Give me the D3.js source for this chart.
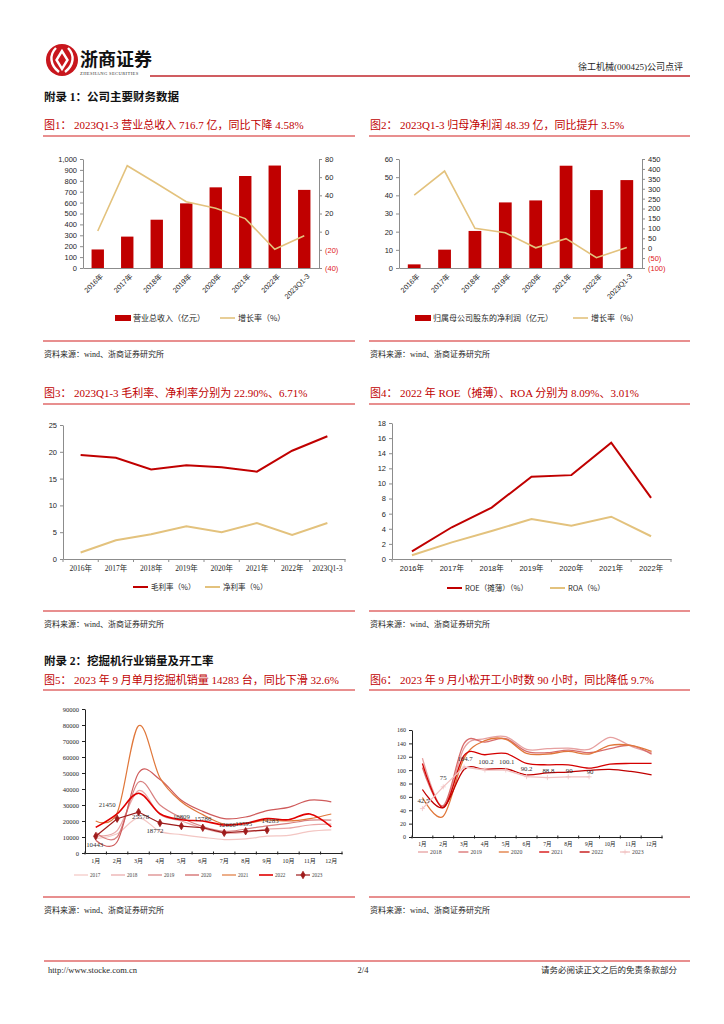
<!DOCTYPE html>
<html>
<head>
<meta charset="utf-8">
<script src="https://d3js.org/d3.v7.min.js"></script>
<style>
  body { margin: 0; background: #fff; }
  svg { display: block; }
</style>
</head>
<body>
<script>
// ---------- data ----------
var years = ["2016年", "2017年", "2018年", "2019年", "2020年", "2021年", "2022年", "2023Q1-3"];
var revenue = [170, 288, 443, 593, 740, 844, 940, 716.7];          // 营业总收入（亿元）
var revenueGrowth = [0.7, 72.6, 53, 33, 25.7, 14.4, -19.4, -4.58];  // 增长率（%）
var netProfit = [2.0, 10.1, 20.4, 36.1, 37.2, 56.3, 42.9, 48.39];   // 归母净利润（亿元）
var profitGrowth = [268, 389, 100, 78, 2, 48, -48, 3.5];            // 增长率（%）

var grossMargin = [19.4, 18.9, 16.7, 17.5, 17.1, 16.3, 20.2, 22.90];
var netMargin = [1.2, 3.5, 4.6, 6.1, 5.0, 6.7, 4.5, 6.71];

var roeYears = ["2016年", "2017年", "2018年", "2019年", "2020年", "2021年", "2022年"];
var roe = [1.0, 4.2, 6.8, 10.9, 11.1, 15.4, 8.09];
var roa = [0.5, 2.2, 3.7, 5.3, 4.4, 5.6, 3.01];

var months = ["1月", "2月", "3月", "4月", "5月", "6月", "7月", "8月", "9月", "10月", "11月", "12月"];
var salesYears = ["2017", "2018", "2019", "2020", "2021", "2022", "2023"];
var sales2017 = [9000, 12000, 22000, 13500, 11500, 9800, 8400, 8800, 10500, 11000, 13500, 14400];
var sales2018 = [11000, 14000, 39000, 24000, 20000, 15500, 12500, 13000, 15000, 15500, 17500, 18000];
var sales2019 = [13000, 10000, 44300, 30000, 22000, 16500, 13500, 15000, 17000, 18500, 20500, 20500];
var sales2020 = [8000, 7000, 50000, 46000, 33000, 26000, 21500, 22500, 26500, 28500, 33000, 32000];
var sales2021 = [20000, 25000, 79500, 47000, 32000, 24000, 18000, 18500, 20500, 20000, 21500, 24400];
var sales2022 = [16000, 24500, 37300, 24500, 20800, 20000, 17500, 18500, 21500, 20800, 24400, 16400];
var sales2023 = [10443, 21450, 25578, 18772, 16809, 15786, 12606, 13595, 14283];

var hourYears = ["2018", "2019", "2020", "2021", "2022", "2023"];
var hours2018 = [118, 45, 133, 147, 150, 131, 132, 133, 131, 149, 136, 126];
var hours2019 = [104, 47, 140, 142, 147, 128, 126, 130, 126, 132, 137, 124];
var hours2020 = [59, 31, 118, 144, 146, 125, 124, 128, 124, 137, 137, 128];
var hours2021 = [110, 44, 122, 123, 125, 110, 108, 108, 103, 109, 110, 110];
var hours2022 = [71, 44, 101, 101, 102, 93, 96, 97, 99.7, 101, 98, 93];
var hours2023 = [42.5, 75, 104.7, 100.2, 100.1, 90.2, 88.8, 90, 90];

// ---------- style ----------
var RED = "#c00000", GOLD = "#e3c27d", RULE = "#e06a6a", AXIS = "#8c8c8c", INK = "#262626";
var SERIF = "'Liberation Serif','Noto Sans CJK SC',serif";
var SANS = "'Liberation Sans','Noto Sans CJK SC',sans-serif";
var CJK = "'Noto Sans CJK SC',sans-serif";

var svg = d3.select("body").append("svg")
  .attr("width", 724).attr("height", 1024)
  .style("font-family", SANS);

// ---------- header ----------
svg.append("circle").attr("cx", 62).attr("cy", 60).attr("r", 16).attr("fill", "#c8161d");
svg.append("path")
  .attr("d", "M56,48 C49,55 50,65 59,72 M68,48 C75,55 74,65 65,72 M62,51 L56.5,60 L62,69 L67.5,60 Z")
  .attr("fill", "none").attr("stroke", "#fff").attr("stroke-width", 2.4);
svg.append("text").attr("x", 80).attr("y", 66).attr("font-size", 18).attr("font-weight", "bold")
  .style("font-family", CJK).attr("fill", "#111").text("浙商证券");
svg.append("text").attr("x", 80).attr("y", 75).attr("font-size", 4.6).attr("letter-spacing", 0.35)
  .style("font-family", SERIF).attr("fill", "#333").text("ZHESHANG SECURITIES");
svg.append("line").attr("x1", 150).attr("x2", 690).attr("y1", 76).attr("y2", 76)
  .attr("stroke", "#c0272d").attr("stroke-width", 1.4);
svg.append("text").attr("x", 683).attr("y", 70).attr("text-anchor", "end").attr("font-size", 9)
  .style("font-family", SERIF).attr("fill", INK).text("徐工机械(000425)公司点评");

function heading(y, txt) {
  svg.append("text").attr("x", 44).attr("y", y).attr("font-size", 11.5).attr("font-weight", "bold")
    .style("font-family", SERIF).attr("fill", "#111").text(txt);
}
heading(101, "附录 1：公司主要财务数据");
heading(665, "附录 2：挖掘机行业销量及开工率");

function panel(x0, x1, titleY, ruleY, bottomY, label, title) {
  svg.append("text").attr("x", x0 + 1).attr("y", titleY).attr("font-size", 11)
    .style("font-family", SERIF).attr("fill", RED).text(label);
  svg.append("text").attr("x", x0 + 31).attr("y", titleY).attr("font-size", 11)
    .style("font-family", SERIF).attr("fill", RED).text(title);
  [ruleY, bottomY].forEach(function(y) {
    svg.append("line").attr("x1", x0).attr("x2", x1).attr("y1", y).attr("y2", y)
      .attr("stroke", RULE).attr("stroke-width", 1.3);
  });
  svg.append("text").attr("x", x0 + 1).attr("y", bottomY + 16).attr("font-size", 8)
    .style("font-family", SERIF).attr("fill", INK).text("资料来源：wind、浙商证券研究所");
}
panel(43, 355, 129, 136, 341, "图1：", "2023Q1-3 营业总收入 716.7 亿，同比下降 4.58%");
panel(369, 690, 129, 136, 341, "图2：", "2023Q1-3 归母净利润 48.39 亿，同比提升 3.5%");
panel(43, 355, 397, 404, 611, "图3：", "2023Q1-3 毛利率、净利率分别为 22.90%、6.71%");
panel(369, 690, 397, 404, 611, "图4：", "2022 年 ROE（摊薄）、ROA 分别为 8.09%、3.01%");
panel(43, 355, 684, 690, 897, "图5：", "2023 年 9 月单月挖掘机销量 14283 台，同比下滑 32.6%");
panel(369, 690, 684, 690, 897, "图6：", "2023 年 9 月小松开工小时数 90 小时，同比降低 9.7%");

// footer
svg.append("line").attr("x1", 44).attr("x2", 690).attr("y1", 961).attr("y2", 961)
  .attr("stroke", RULE).attr("stroke-width", 1.3);
svg.append("text").attr("x", 48).attr("y", 973).attr("font-size", 8.5).style("font-family", SERIF)
  .attr("fill", INK).text("http://www.stocke.com.cn");
svg.append("text").attr("x", 363).attr("y", 973).attr("font-size", 8.5).attr("text-anchor", "middle")
  .style("font-family", SERIF).attr("fill", INK).text("2/4");
svg.append("text").attr("x", 677).attr("y", 973).attr("font-size", 8.5).attr("text-anchor", "end")
  .style("font-family", SERIF).attr("fill", INK).text("请务必阅读正文之后的免责条款部分");

function styleAxis(g, fs, family) {
  g.select(".domain").attr("stroke", AXIS);
  g.selectAll(".tick line").attr("stroke", AXIS);
  g.selectAll(".tick text").attr("fill", INK).attr("font-size", fs).style("font-family", family || SANS);
}
function negFmt(v) { return v < 0 ? "(" + (-v) + ")" : String(v); }

// ---------- bar + growth line ----------
function barLine(o) {
  var g = svg.append("g");
  var x = d3.scaleBand().domain(years).range([o.x0, o.x1]).paddingInner(0.58).paddingOuter(0.29);
  var yL = d3.scaleLinear().domain(o.left).range([268, 159]);
  var yR = d3.scaleLinear().domain(o.right).range([268, 159]);

  g.selectAll("rect").data(o.bars).join("rect")
    .attr("x", function(d, i) { return x(years[i]); })
    .attr("y", function(d) { return yL(d); })
    .attr("width", x.bandwidth())
    .attr("height", function(d) { return yL(0) - yL(d); })
    .attr("fill", RED);

  var line = d3.line()
    .x(function(d, i) { return x(years[i]) + x.bandwidth() / 2; })
    .y(function(d) { return yR(d); });
  g.append("path").datum(o.growth).attr("d", line)
    .attr("fill", "none").attr("stroke", GOLD).attr("stroke-width", 1.6);

  var aL = g.append("g").attr("transform", "translate(" + o.x0 + ",0)")
    .call(d3.axisLeft(yL).tickValues(d3.range(o.left[0], o.left[1] + 1, o.leftStep))
      .tickSize(3).tickSizeOuter(0).tickFormat(d3.format(",")));
  styleAxis(aL, 7.5);

  var aR = g.append("g").attr("transform", "translate(" + o.x1 + ",0)")
    .call(d3.axisRight(yR).tickValues(d3.range(o.right[0], o.right[1] + 1, o.rightStep))
      .tickSize(3).tickSizeOuter(0).tickFormat(negFmt));
  styleAxis(aR, 7.5);
  aR.selectAll(".tick text").attr("fill", function(d) { return d < 0 ? "#e02020" : INK; });

  var aB = g.append("g").attr("transform", "translate(0,268)")
    .call(d3.axisBottom(x).tickSize(0).tickSizeOuter(0));
  styleAxis(aB, 7.2);
  aB.selectAll(".tick text")
    .attr("x", 0).attr("y", 0).attr("dy", "0.35em")
    .attr("text-anchor", "end")
    .attr("transform", "translate(4,7) rotate(-45)");

  // legend
  g.append("rect").attr("x", o.leg[0]).attr("y", 315).attr("width", 16).attr("height", 6).attr("fill", RED);
  g.append("text").attr("x", o.leg[0] + 18).attr("y", 320.5).attr("font-size", 8).attr("fill", INK)
    .style("font-family", CJK).text(o.barName);
  g.append("line").attr("x1", o.leg[1]).attr("x2", o.leg[1] + 15).attr("y1", 318).attr("y2", 318)
    .attr("stroke", GOLD).attr("stroke-width", 1.6);
  g.append("text").attr("x", o.leg[1] + 18).attr("y", 320.5).attr("font-size", 8).attr("fill", INK)
    .style("font-family", CJK).text("增长率（%）");
}

barLine({ x0: 83, x1: 319, bars: revenue, growth: revenueGrowth,
  left: [0, 1000], leftStep: 100, right: [-40, 80], rightStep: 20,
  leg: [115, 220], barName: "营业总收入（亿元）" });
barLine({ x0: 399, x1: 642, bars: netProfit, growth: profitGrowth,
  left: [0, 60], leftStep: 10, right: [-100, 450], rightStep: 50,
  leg: [415, 573], barName: "归属母公司股东的净利润（亿元）" });

// ---------- simple two-line charts ----------
function twoLine(o) {
  var g = svg.append("g");
  var x = d3.scaleBand().domain(o.cats).range([o.x0, o.x1]);
  var y = d3.scaleLinear().domain([0, o.yMax]).range([559, o.yTop]);

  var aL = g.append("g").attr("transform", "translate(" + o.x0 + ",0)")
    .call(d3.axisLeft(y).tickValues(d3.range(0, o.yMax + 1, o.step)).tickSize(3).tickSizeOuter(0));
  styleAxis(aL, 7.5);
  var aB = g.append("g").attr("transform", "translate(0,559)")
    .call(d3.axisBottom(x).tickSize(0).tickSizeOuter(0).tickPadding(7));
  styleAxis(aB, 7.5, o.xFont);
  g.selectAll(".bt").data(d3.range(o.cats.length + 1)).join("line")
    .attr("x1", function(i) { return o.x0 + i * x.step(); })
    .attr("x2", function(i) { return o.x0 + i * x.step(); })
    .attr("y1", 559).attr("y2", 562).attr("stroke", AXIS);

  var line = d3.line()
    .x(function(d, i) { return x(o.cats[i]) + x.bandwidth() / 2; })
    .y(function(d) { return y(d); });
  o.series.forEach(function(s) {
    g.append("path").datum(s.values).attr("d", line)
      .attr("fill", "none").attr("stroke", s.color).attr("stroke-width", 2);
    g.append("line").attr("x1", s.leg).attr("x2", s.leg + 15).attr("y1", o.legY).attr("y2", o.legY)
      .attr("stroke", s.color).attr("stroke-width", 2);
    g.append("text").attr("x", s.leg + 18).attr("y", o.legY + 2.5).attr("font-size", 7.5)
      .attr("fill", INK).style("font-family", CJK).text(s.name);
  });
}

twoLine({ cats: years, x0: 63, x1: 345, yMax: 25, step: 5, yTop: 425, legY: 587, xFont: SERIF,
  series: [
    { values: grossMargin, color: RED, name: "毛利率（%）", leg: 133 },
    { values: netMargin, color: GOLD, name: "净利率（%）", leg: 205 }
  ] });
twoLine({ cats: roeYears, x0: 392, x1: 671, yMax: 18, step: 2, yTop: 423, legY: 588,
  series: [
    { values: roe, color: RED, name: "ROE（摊薄）（%）", leg: 447 },
    { values: roa, color: GOLD, name: "ROA（%）", leg: 550 }
  ] });

// ---------- monthly multi-line charts ----------
function monthly(o) {
  var g = svg.append("g");
  var x = d3.scaleBand().domain(months).range([o.x0, o.x1]);
  var y = d3.scaleLinear().domain([0, o.yMax]).range([o.yBottom, o.yTop]);
  var cx = function(i) { return x(months[i]) + x.bandwidth() / 2; };

  var aL = g.append("g").attr("transform", "translate(" + o.x0 + ",0)")
    .call(d3.axisLeft(y).tickValues(d3.range(0, o.yMax + 1, o.step))
      .tickSize(3).tickSizeOuter(0).tickFormat(d3.format("d")));
  styleAxis(aL, o.yFs, SERIF);
  aL.select(".domain").attr("stroke", "#222");
  aL.selectAll(".tick line").attr("stroke", "#222");
  var aB = g.append("g").attr("transform", "translate(0," + o.yBottom + ")")
    .call(d3.axisBottom(x).tickSize(0).tickSizeOuter(0).tickPadding(o.xPad));
  styleAxis(aB, o.xFs, SERIF);
  aB.select(".domain").attr("stroke", "#222");
  g.selectAll(".bt").data(d3.range(months.length + 1)).join("line")
    .attr("x1", function(i) { return o.x0 + i * x.step(); })
    .attr("x2", function(i) { return o.x0 + i * x.step(); })
    .attr("y1", o.yBottom - 1.5).attr("y2", o.yBottom + 1.5).attr("stroke", "#222");

  o.series.forEach(function(s, k) {
    var line = d3.line().x(function(d, i) { return cx(i); }).y(function(d) { return y(d); })
      .curve(s.smooth ? d3.curveCatmullRom.alpha(0) : d3.curveLinear);
    g.append("path").datum(s.values).attr("d", line)
      .attr("fill", "none").attr("stroke", s.color).attr("stroke-width", s.width);
    var lx = o.legX + k * o.legStep;
    g.append("line").attr("x1", lx).attr("x2", lx + o.legLen).attr("y1", o.legY).attr("y2", o.legY)
      .attr("stroke", s.color).attr("stroke-width", s.width);
    g.append("text").attr("x", lx + o.legLen + 2).attr("y", o.legY + 2).attr("font-size", o.legFs)
      .attr("fill", "#444").style("font-family", SERIF).text(s.name);
    if (s.marker) {
      var pts = s.values.map(function(d, i) { return [cx(i), y(d)]; });
      pts.push([lx + o.legLen / 2, o.legY]);
      g.selectAll(null).data(pts).join("path")
        .attr("transform", function(p) { return "translate(" + p[0] + "," + p[1] + ")"; })
        .attr("d", s.marker === "cross" ? "M-2.5,0H2.5M0,-2.5V2.5" : d3.symbol(d3.symbolDiamond, 16)())
        .attr("fill", s.color).attr("stroke", s.color).attr("stroke-width", 0.8);
    }
    if (s.labels) {
      g.selectAll(null).data(s.values).join("text")
        .attr("x", function(d, i) { return cx(i) + s.labels[i][0]; })
        .attr("y", function(d, i) { return y(d) + s.labels[i][1]; })
        .attr("text-anchor", "middle").attr("font-size", o.labFs)
        .style("font-family", SERIF).attr("fill", "#333")
        .text(function(d) { return d; });
    }
  });
}

// label offsets (dx, dy) for the 2023 data labels
var salesLabelOffset = [[-1, 11], [-10, -12], [2, 7], [-5, 10], [0, -7], [0, -7], [3, -6], [-2, -5], [3, -7]];
var hoursLabelOffset = [[1, -6], [0, -7], [1, -6], [1, -6], [1, -6], [0, -6], [1, -5], [1, -4], [1, -3]];

var salesData = [sales2017, sales2018, sales2019, sales2020, sales2021, sales2022, sales2023];
var salesColors = ["#f3c6c3", "#e9a6a6", "#d88080", "#cf5b5b", "#e0773a", "#e00000", "#9e1b1b"];
monthly({ x0: 85, x1: 342, yBottom: 853, yTop: 709, yMax: 90000, step: 10000,
  yFs: 6.5, xFs: 6, xPad: 6, labFs: 6.8, legX: 74, legStep: 37, legLen: 14, legY: 875, legFs: 5.2,
  series: salesYears.map(function(n, k) {
    return { name: n, values: salesData[k], color: salesColors[k],
      width: n === "2022" ? 1.6 : 1.2, smooth: n !== "2023",
      marker: n === "2023" ? "diamond" : null,
      labels: n === "2023" ? salesLabelOffset : null };
  }) });

var hoursData = [hours2018, hours2019, hours2020, hours2021, hours2022, hours2023];
var hoursColors = ["#e6a0a0", "#d86c6c", "#e0773a", "#d40000", "#c00000", "#f1c2c2"];
monthly({ x0: 412, x1: 662, yBottom: 837, yTop: 730, yMax: 160, step: 20,
  yFs: 6, xFs: 5.5, xPad: 5, labFs: 6.8, legX: 418, legStep: 40.4, legLen: 10, legY: 852, legFs: 5.8,
  series: hourYears.map(function(n, k) {
    return { name: n, values: hoursData[k], color: hoursColors[k],
      width: 1.3, smooth: n !== "2023",
      marker: n === "2023" ? "cross" : null,
      labels: n === "2023" ? hoursLabelOffset : null };
  }) });
</script>
</body>
</html>
